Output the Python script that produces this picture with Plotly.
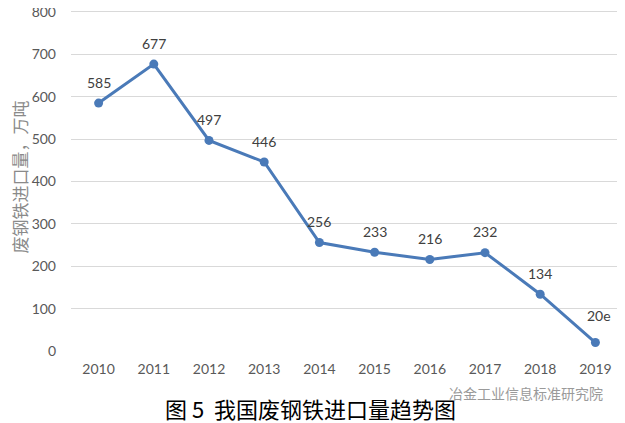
import plotly.graph_objects as go

years = ["2010", "2011", "2012", "2013", "2014", "2015", "2016", "2017", "2018", "2019"]
imports = [585, 677, 497, 446, 256, 233, 216, 232, 134, 20]
labels = ["585", "677", "497", "446", "256", "233", "216", "232", "134", "20e"]
y_ticks = [0, 100, 200, 300, 400, 500, 600, 700, 800]

tick_font = dict(family="Lato, Open Sans, sans-serif", size=14, color="#595959")
label_font = dict(family="Lato, Open Sans, sans-serif", size=14, color="#404040")
blue = "#4a7ab8"

fig = go.Figure()
fig.add_trace(go.Scatter(
    x=years, y=imports, mode="lines+markers",
    line=dict(color=blue, width=3),
    marker=dict(color=blue, size=9),
    cliponaxis=False, showlegend=False,
))

annotations = []
for i, (v, lab) in enumerate(zip(imports, labels)):
    last = i == len(years) - 1
    annotations.append(dict(
        x=i, y=v, xref="x", yref="y", text=lab, showarrow=False,
        xanchor="center", yanchor="middle",
        xshift=4 if last else 0, yshift=27 if last else 21,
        font=label_font,
    ))

annotations += [
    dict(text="图 5  我国废钢铁进口量趋势图", x=0.433, xref="paper", xanchor="center",
         y=0, yref="paper", yanchor="middle", yshift=-57, showarrow=False,
         font=dict(family="Noto Sans CJK SC", size=22, color="#000000")),
    dict(text="冶金工业信息标准研究院", x=1, xref="paper", xanchor="right",
         y=0, yref="paper", yanchor="middle", yshift=-42, xshift=-18, showarrow=False,
         font=dict(family="Noto Sans CJK SC", size=14, color="#9a9a9a")),
    dict(text="废钢铁进口量，万吨", x=0, xref="paper", xanchor="center", xshift=-52,
         y=0.5, yref="paper", yanchor="middle", yshift=2, textangle=-90, showarrow=False,
         font=dict(family="Noto Sans CJK SC", size=17, color="#8a8a8a")),
]

fig.update_layout(
    width=617, height=415,
    margin=dict(l=63, r=2, t=0, b=72, autoexpand=False),
    paper_bgcolor="white", plot_bgcolor="white",
    xaxis=dict(type="category", range=[-0.5, 9.5], tickfont=tick_font, showgrid=False,
               zeroline=False, showline=False, ticks="", ticklabelstandoff=8,
               automargin=False),
    yaxis=dict(range=[0, 809.4], tickvals=y_ticks,
               tickfont=tick_font, gridcolor="#d9d9d9",
               gridwidth=1, zeroline=False, showline=False, ticks="",
               ticklabelstandoff=14, automargin=False, ticklabeloverflow="allow"),
    annotations=annotations,
)

fig.write_html("out.html")
